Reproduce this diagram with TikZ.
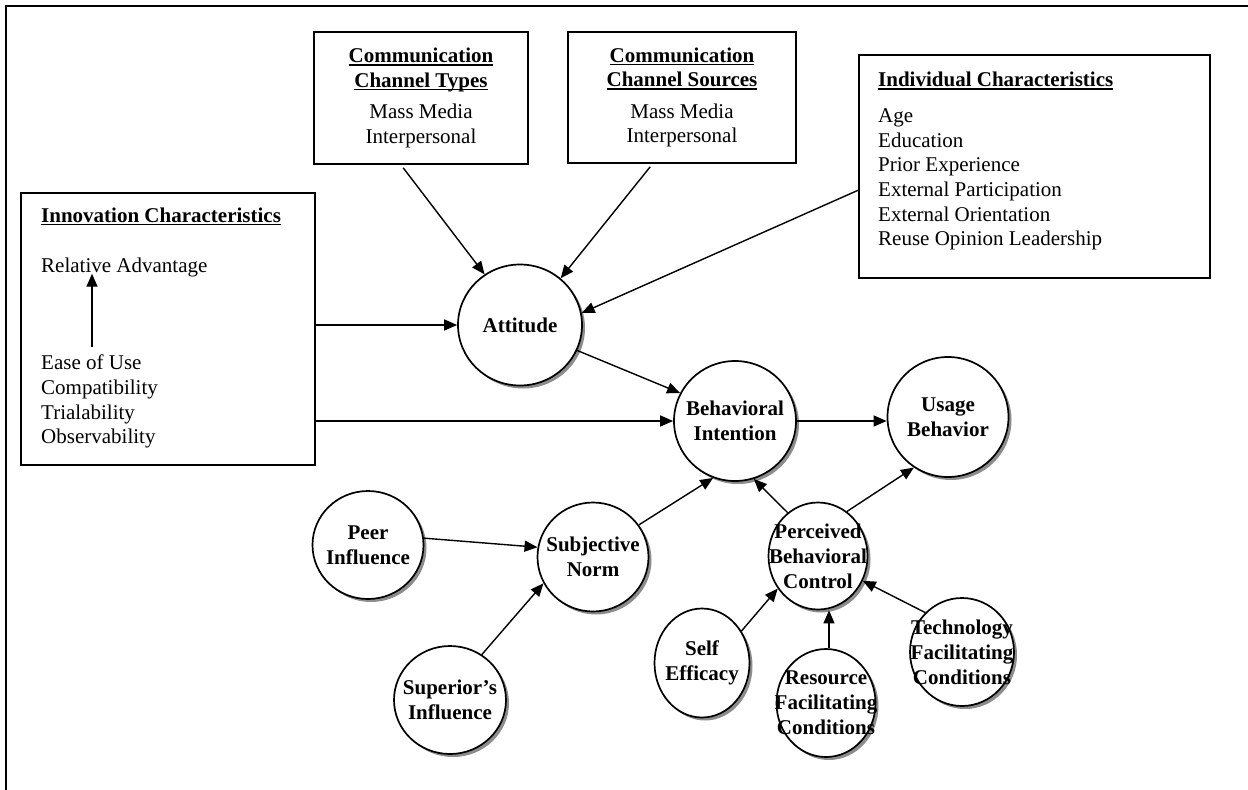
\documentclass[tikz,border=0pt]{standalone}
\usepackage{fontspec}
\setmainfont{Liberation Serif}
\usetikzlibrary{shapes.geometric,shadows,arrows.meta,calc}
\newsavebox\myulbox
\newcommand\myul[1]{\sbox\myulbox{\bfseries #1}\rlap{\rule[-3pt]{\wd\myulbox}{1.3pt}}\usebox\myulbox}
\begin{document}
\begin{tikzpicture}[x=1pt,y=-1pt,font=\fontsize{21}{24.6}\selectfont,
  bub/.style={ellipse, draw, line width=1.7pt, fill=white, inner sep=0pt,
    drop shadow={shadow xshift=3pt, shadow yshift=-3pt, fill=black!45, opacity=1}},
  boxnode/.style={rectangle, draw, line width=1.6pt, inner sep=0pt},
  txt/.style={inner sep=0pt},
  arr/.style={line width=1.4pt, -{Triangle[length=13pt,width=11pt]}},
  every label/.style={font=\bfseries\fontsize{21}{25}\selectfont, align=center, inner sep=0pt}]
\useasboundingbox (0,0) rectangle (1248,790);
\draw[line width=2.5pt] (1249,6) -- (6,6) -- (6,791);

% boxes
\node[boxnode, minimum width=214, minimum height=132, align=center] (cct) at (421,98)
  {\myul{Communication}\\\myul{Channel Types}\\[7pt]Mass Media\\Interpersonal};
\node[boxnode, minimum width=228, minimum height=131, align=center] (ccs) at (682,97.5)
  {\myul{Communication}\\\myul{Channel Sources}\\[7pt]Mass Media\\Interpersonal};
\node[boxnode, minimum width=351, minimum height=223] (ind) at (1034.5,166.5) {};
\node[txt, anchor=north west, align=left] (indtxt) at (878,72)
  {\myul{Individual Characteristics}\\[11.4pt]Age\\Education\\Prior Experience\\External Participation\\External Orientation\\Reuse Opinion Leadership};
\node[boxnode, minimum width=294, minimum height=272] (inn) at (168,329) {};
\node[txt, anchor=base west] (inntitle) at (41,222) {\myul{Innovation Characteristics}};
\node[txt, anchor=base west] (ra) at (41,272) {Relative Advantage};
\node[txt, anchor=north west, align=left] (ease) at (41,355) {Ease of Use\\Compatibility\\Trialability\\Observability};

% circles
\node[bub, minimum width=124, minimum height=121, label={center:Attitude}] (att) at (520,325) {};
\node[bub, minimum width=122, minimum height=120, label={center:Behavioral\\Intention}] (bi) at (735,421) {};
\node[bub, minimum width=121, minimum height=120, label={center:Usage\\Behavior}] (ub) at (948,417) {};
\node[bub, minimum width=111, minimum height=108, label={center:Peer\\Influence}] (peer) at (368,545) {};
\node[bub, minimum width=111, minimum height=109, label={center:Subjective\\Norm}] (sn) at (593,557) {};
\node[bub, minimum width=112, minimum height=108, label={center:Superior’s\\Influence}] (sup) at (450,700) {};
\node[bub, minimum width=99, minimum height=107, label={center:Perceived\\Behavioral\\Control}] (pbc) at (818,556) {};
\node[bub, minimum width=95, minimum height=109, label={center:Self\\Efficacy}] (se) at (702,663) {};
\node[bub, minimum width=99, minimum height=108, label={center:Resource\\Facilitating\\Conditions}] (rfc) at (826,703) {};
\node[bub, minimum width=104, minimum height=108, label={center:Technology\\Facilitating\\Conditions}] (tfc) at (962,652) {};

% connectors
\draw[arr] ($(ease.north west)+(51,-8)$) -- ($(ra.south west)+(51,-3)$);
\draw[arr] ($(cct.south west)+(90,3)$) -- (att.125);
\draw[arr] ($(ccs.south west)+(83,3)$) -- (att.49);
\draw[arr] ($(ind.north west)+(0,136)$) -- (att.11);
\draw[arr] (att.west -| inn.east) -- (att.west);
\draw[arr] (bi.west -| inn.east) -- (bi.west);
\draw[arr] (att.336) -- (bi.153);
\draw[arr] (bi.east) -- (bi.east -| ub.west);
\draw[arr] (sn.35) -- (bi.249);
\draw[arr] (pbc.125) -- (bi.288);
\draw[arr] (pbc.57) -- (ub.236);
\draw[arr] (peer.7) -- (sn.170);
\draw[arr] (sup.55) -- (sn.208);
\draw[arr] (se.39) -- (pbc.219);
\draw[arr] ($(rfc.north)+(3,0)$) -- ($(rfc.north |- pbc.south)+(3,0)$);
\draw[arr] (tfc.133) -- (pbc.331);
\end{tikzpicture}
\end{document}
